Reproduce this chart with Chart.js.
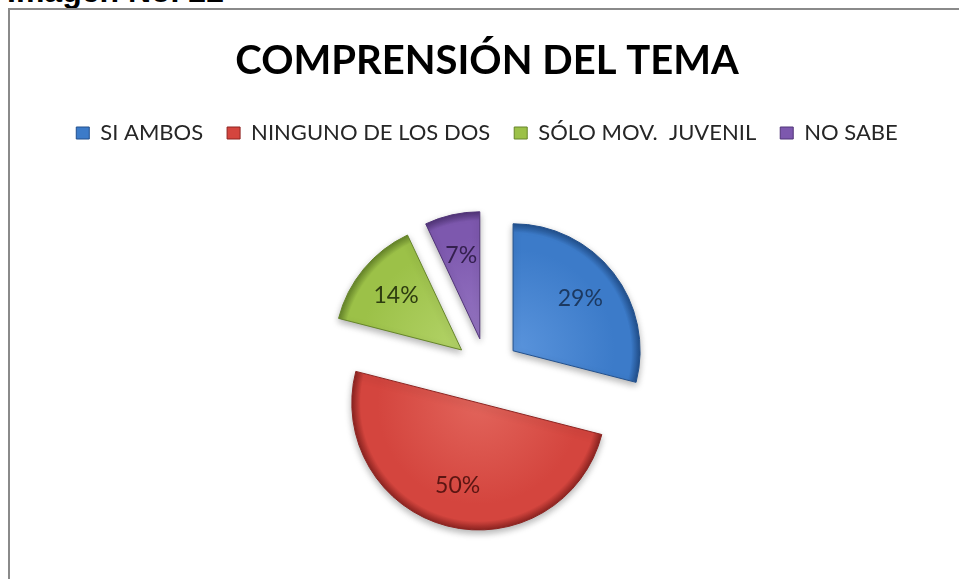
<!DOCTYPE html>
<html>
<head>
<meta charset="utf-8">
<script src="https://cdn.jsdelivr.net/npm/chart.js@4.4.1/dist/chart.umd.min.js"></script>
<style>
    html, body { margin: 0; padding: 0; background: #fff; overflow: hidden; width: 959px; height: 579px; }
    #caption {
        position: absolute; left: 7px; top: -25px;
        font: bold 32px/32px "Liberation Sans", Arial, sans-serif; color: #000;
        white-space: nowrap;
    }
    #frame {
        position: absolute; left: 8px; top: 8px; width: 970px; height: 620px;
        border: 2px solid #8a8a8a; box-sizing: border-box;
    }
    #holder { position: absolute; left: 0; top: 0; width: 959px; height: 588px; }
</style>
</head>
<body>
<div id="caption">Imagen No. 22</div>
<div id="frame"></div>
<div id="holder"><canvas id="pie"></canvas></div>
<script>
const categories = ['SI AMBOS', 'NINGUNO DE LOS DOS', 'SÓLO MOV.  JUVENIL', 'NO SABE'];
const percents = [29, 50, 14, 7];
const chartTitle = 'COMPRENSIÓN DEL TEMA';

const palette = {
    base:  ['#3c7bc9', '#d4453e', '#9cc148', '#7d58ae'],
    light: ['#5a94dc', '#e2645b', '#b3d368', '#9676c3'],
    dark:  ['#22508d', '#8d2421', '#66852a', '#513478'],
    label: ['#1c3961', '#5b1512', '#2e3d10', '#34204f']
};
const explode = 33;

// pulls every slice out along its bisector and gives it a bevel-ish fill
const explodedPie = {
    id: 'explodedPie',
    afterDatasetsUpdate: (chart) => {
        const ctx = chart.ctx;
        chart.getDatasetMeta(0).data.forEach((arc, i) => {
            const mid = (arc.startAngle + arc.endAngle) / 2;
            arc.x += Math.cos(mid) * explode;
            arc.y += Math.sin(mid) * explode;
            const grad = ctx.createRadialGradient(arc.x, arc.y, 0, arc.x, arc.y, arc.outerRadius);
            grad.addColorStop(0, palette.light[i]);
            grad.addColorStop(0.8, palette.base[i]);
            grad.addColorStop(0.93, palette.base[i]);
            grad.addColorStop(1, palette.dark[i]);
            arc.options = Object.assign({}, arc.options, {backgroundColor: grad});
        });
    },
    beforeDatasetsDraw: (chart) => {
        const ctx = chart.ctx;
        ctx.save();
        ctx.shadowColor = 'rgba(0,0,0,0.3)';
        ctx.shadowBlur = 7;
        ctx.shadowOffsetY = 3;
    },
    afterDatasetsDraw: (chart) => {
        const ctx = chart.ctx;
        ctx.restore();
        ctx.save();
        ctx.font = '23px Lato';
        ctx.textAlign = 'center';
        ctx.textBaseline = 'middle';
        chart.getDatasetMeta(0).data.forEach((arc, i) => {
            const mid = (arc.startAngle + arc.endAngle) / 2;
            const r = arc.outerRadius * 0.67;
            ctx.fillStyle = palette.label[i];
            ctx.fillText(percents[i] + '%', arc.x + Math.cos(mid) * r, arc.y + Math.sin(mid) * r);
        });
        ctx.restore();
    }
};

new Chart(document.getElementById('pie'), {
    type: 'pie',
    data: {
        labels: categories,
        datasets: [{
            data: percents,
            backgroundColor: palette.base,
            borderColor: palette.dark,
            borderWidth: 1,
            radius: 127
        }]
    },
    options: {
        responsive: true,
        maintainAspectRatio: false,
        animation: false,
        layout: { padding: { left: 15, right: 0, top: 0, bottom: 0 } },
        plugins: {
            title: {
                display: true,
                text: chartTitle,
                color: '#000',
                font: { family: 'Lato', size: 40, weight: 'bold' },
                padding: { top: 37, bottom: 13 }
            },
            legend: {
                position: 'top',
                labels: {
                    boxWidth: 13,
                    boxHeight: 12,
                    padding: 24,
                    color: '#262626',
                    font: { family: 'Lato', size: 22 }
                }
            },
            tooltip: { enabled: false }
        }
    },
    plugins: [explodedPie]
});
</script>
</body>
</html>
